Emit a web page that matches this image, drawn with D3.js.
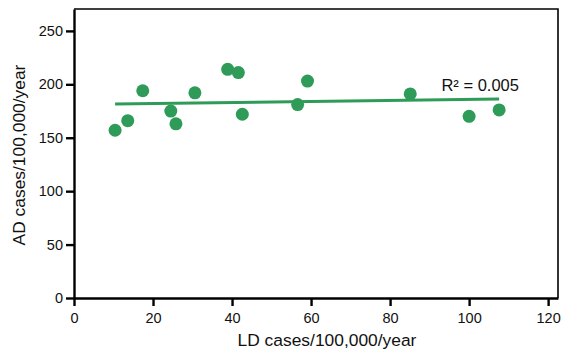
<!DOCTYPE html>
<html>
<head>
<meta charset="utf-8">
<script src="https://cdn.jsdelivr.net/npm/d3@7"></script>
<style>
  body { margin: 0; background: #fff; }
  svg text { font-family: "Liberation Sans", Arial, sans-serif; fill: #111; }
</style>
</head>
<body>
<div id="chart"></div>
<script>
// LD vs AD incidence per state
const ldCases = [10.4, 13.6, 17.4, 24.5, 25.8, 30.6, 38.9, 41.6, 42.6, 56.6, 59.1, 85.1, 100.0, 107.6];
const adCases = [157, 166, 194, 175, 163, 192, 214, 211, 172, 181, 203, 191, 170, 176];

// fitted line
const fitIntercept = 181.0;
const fitSlope = 0.048;
const r2Label = "R\u00B2 = 0.005";

const xTicks = [0, 20, 40, 60, 80, 100, 120];
const yTicks = [0, 50, 100, 150, 200, 250];

const width = 564, height = 352;
const margin = {top: 9, right: 6, bottom: 54, left: 74};
const innerW = width - margin.left - margin.right,
    innerH = height - margin.top - margin.bottom;

const green = "#2f9b58";

const svg = d3.select("#chart")
    .append("svg")
    .attr("width", width)
    .attr("height", height);

const g = svg.append("g")
    .attr("transform", "translate(" + margin.left + "," + margin.top + ")");

const xScale = d3.scaleLinear()
    .domain([0, 122.5])
    .range([0, innerW]);

const yScale = d3.scaleLinear()
    .domain([0, 270.5])
    .range([innerH, 0]);

// top + right frame
g.append("path")
    .attr("d", "M0,0H" + innerW + "V" + innerH)
    .attr("fill", "none")
    .attr("stroke", "#000")
    .attr("stroke-width", 1.6);

// x axis
const xAxis = g.append("g")
    .attr("class", "x-axis")
    .attr("transform", "translate(0," + innerH + ")")
    .call(d3.axisBottom(xScale)
        .tickValues(xTicks)
        .tickSizeInner(8)
        .tickSizeOuter(0)
        .tickPadding(7));

// y axis
const yAxis = g.append("g")
    .attr("class", "y-axis")
    .call(d3.axisLeft(yScale)
        .tickValues(yTicks)
        .tickSizeInner(8)
        .tickSizeOuter(0)
        .tickPadding(3));

[xAxis, yAxis].forEach(function(a){
    a.select(".domain").attr("stroke", "#000").attr("stroke-width", 2.4);
    a.selectAll(".tick line").attr("stroke", "#000").attr("stroke-width", 2.4);
    a.selectAll(".tick text")
        .style("font-family", "'Liberation Sans', Arial, sans-serif")
        .style("font-size", "14.5px")
        .attr("fill", "#111");
});

// regression line
const xMin = d3.min(ldCases), xMax = d3.max(ldCases);
g.append("line")
    .attr("x1", xScale(xMin))
    .attr("x2", xScale(xMax))
    .attr("y1", yScale(fitIntercept + fitSlope * xMin))
    .attr("y2", yScale(fitIntercept + fitSlope * xMax))
    .attr("stroke", green)
    .attr("stroke-width", 3);

// points
g.selectAll(".pt")
    .data(ldCases)
    .enter().append("circle")
    .attr("class", "pt")
    .attr("cx", function(d){ return xScale(d); })
    .attr("cy", function(d, i){ return yScale(adCases[i]); })
    .attr("r", 6.5)
    .attr("fill", green);

// R² label
g.append("text")
    .attr("x", xScale(93))
    .attr("y", yScale(193.5))
    .style("font-size", "16.5px")
    .text(r2Label);

// axis titles
svg.append("text")
    .attr("x", 327)
    .attr("y", 346)
    .attr("text-anchor", "middle")
    .style("font-size", "17.4px")
    .text("LD cases/100,000/year");

svg.append("text")
    .attr("transform", "translate(25,155) rotate(-90)")
    .attr("text-anchor", "middle")
    .style("font-size", "17.4px")
    .text("AD cases/100,000/year");
</script>
</body>
</html>
